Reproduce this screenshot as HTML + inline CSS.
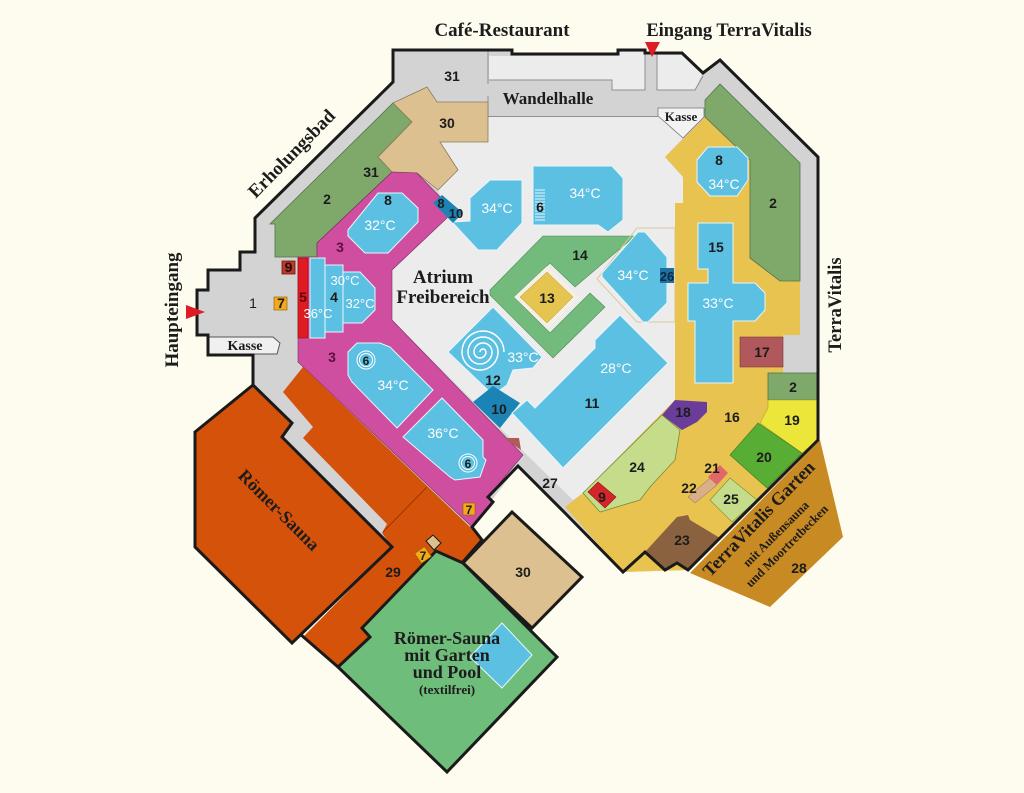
<!DOCTYPE html>
<html><head><meta charset="utf-8">
<style>
html,body{margin:0;padding:0;background:#fdfcef;width:1024px;height:793px;overflow:hidden}
svg{display:block}
.n{font-family:"Liberation Sans",sans-serif;font-size:14px;font-weight:bold;fill:#1c1c1c;text-anchor:middle}
.t{font-family:"Liberation Sans",sans-serif;font-size:14px;fill:#ffffff;text-anchor:middle}
.s{font-family:"Liberation Serif",serif;font-weight:bold;fill:#1c1c1c;text-anchor:middle}
.p{fill:#5cc0e2;stroke:#e8f6fb;stroke-width:1}
</style></head><body>
<svg width="1024" height="793" viewBox="0 0 1024 793" xmlns="http://www.w3.org/2000/svg">
<rect width="1024" height="793" fill="#fdfcef"/>

<!-- building grey base -->
<polygon points="393,50 512,50 512,54 618,54 618,50 645,50 645,53 682,53 703,73 720,60 818,157 818,440 688,570 623,572 565,513 518,466 492,500 472,527 392,547 282,437 292,423 253,385 253,355 208,355 208,335 197,335 197,290 208,290 208,270 240,270 240,252 255,252 255,218 393,82" fill="#d3d3d3"/>

<!-- light areas top -->
<polygon points="489,56 618,56 618,52 645,52 645,90 612,90 612,80 489,80" fill="#ececec"/>
<polygon points="657,55 682,55 702,74 695,90 657,90" fill="#ececec"/>
<polyline points="489,80 612,80 612,90 645,90 645,53" fill="none" stroke="#8f8f8f" stroke-width="1"/>
<polyline points="657,54 657,90 695,90 703,76" fill="none" stroke="#8f8f8f" stroke-width="1"/>
<line x1="488" y1="50" x2="488" y2="84" stroke="#8f8f8f" stroke-width="1"/>
<line x1="488" y1="96" x2="488" y2="117" stroke="#8f8f8f" stroke-width="1"/>

<!-- atrium -->
<polygon points="488,116 658,116 683,138 665,157 683,177 683,203 675,203 675,400 583,493 573,500 525,453 392,320 392,270 447,215 438,190 458,170 440,142 488,142" fill="#ececec"/>
<line x1="488" y1="116.5" x2="658" y2="116.5" stroke="#8f8f8f" stroke-width="1"/>

<!-- Kasse right -->
<polygon points="658,108 704,108 704,117 683,138 658,116" fill="#f3f3f3" stroke="#777" stroke-width="0.8"/>

<!-- green 2 left -->
<polygon points="270,224 275,224 275,257 317,257 317,243 392,172 378,157 412,122 393,103" fill="#7ea96a" stroke="#56734b" stroke-width="0.8"/>
<!-- tan 30 upper -->
<polygon points="393,103 427,87 437,102 488,102 488,142 440,142 458,170 438,190 417,173 392,172 378,157 412,122" fill="#dcc08f" stroke="#8c7a5a" stroke-width="0.8"/>

<!-- magenta 3 -->
<polygon points="317,243 392,172 417,173 448,205 447,218 392,270 392,320 523,455 513,467 488,497 493,502 472,527 298,362 298,257 317,257" fill="#d04ea0" stroke="#7a2a5e" stroke-width="0.6"/>
<polygon points="504,438 519,438 521,450" fill="#b05a5a"/>
<!-- pool 8 -->
<polygon class="p" points="348,230 378,193 402,193 418,208 418,222 388,253 365,253 348,236"/>
<!-- pool 4 -->
<polygon class="p" points="310,258 325,258 325,265 343,265 343,272 360,272 375,288 375,310 362,323 343,323 343,332 325,332 325,338 310,338"/>
<line x1="325" y1="265" x2="325" y2="332" stroke="#e8f6fb" stroke-width="1"/>
<line x1="343" y1="272" x2="343" y2="323" stroke="#e8f6fb" stroke-width="1"/>
<!-- red 5 -->
<rect x="298" y="258" width="10" height="80" fill="#e01b24" stroke="#8a1010" stroke-width="0.6"/>
<!-- pool 34 lower -->
<polygon class="p" points="348,352 357,343 380,343 390,347 433,390 397,428 352,382 348,375"/>
<!-- pool 36 -->
<polygon class="p" points="403,437 442,398 483,440 483,457 486,460 480,477 455,480 450,477"/>
<circle cx="366" cy="360" r="9" fill="none" stroke="#fff" stroke-width="1"/>
<circle cx="366" cy="360" r="6.5" fill="none" stroke="#fff" stroke-width="1"/>
<circle cx="468" cy="463" r="9" fill="none" stroke="#fff" stroke-width="1"/>
<circle cx="468" cy="463" r="6.5" fill="none" stroke="#fff" stroke-width="1"/>

<!-- entrance items -->
<rect x="282" y="261" width="13" height="13" fill="#b83a2a" stroke="#6a1a10" stroke-width="0.8"/>
<rect x="274" y="297" width="13" height="13" fill="#f2a91a" stroke="#8a5a00" stroke-width="0.6"/>
<polygon points="209,337 273,337 280,343 277,354 209,354" fill="#f0f0f0" stroke="#555" stroke-width="1"/>

<!-- atrium pools -->
<polygon class="p" points="452,222 470,221 470,198 490,180 522,180 522,223 497,250 478,250"/>
<polygon points="433,203 442,195 463,213 453,223" fill="#1b83b5"/>
<polygon class="p" points="533,166 612,166 623,178 623,220 608,232 598,225 533,225"/>
<g stroke="#e8f6fb" stroke-width="1">
<line x1="535" y1="190" x2="545" y2="190"/><line x1="535" y1="193" x2="545" y2="193"/><line x1="535" y1="196" x2="545" y2="196"/><line x1="535" y1="199" x2="545" y2="199"/><line x1="535" y1="202" x2="545" y2="202"/><line x1="535" y1="205" x2="545" y2="205"/><line x1="535" y1="208" x2="545" y2="208"/><line x1="535" y1="211" x2="545" y2="211"/><line x1="535" y1="214" x2="545" y2="214"/><line x1="535" y1="217" x2="545" y2="217"/><line x1="535" y1="220" x2="545" y2="220"/>
</g>
<!-- 14 / 13 -->
<polygon points="490,290 543,236 635,236 575,287 550,263 514,297 550,333 590,293 605,307 553,358 490,295" fill="#72bb7d" stroke="#4e8a58" stroke-width="0.6"/>
<polygon points="547,266 579,297 547,329 514,297" fill="#f4f1e4"/>
<polygon points="547,272 573,297 547,323 520,297" fill="#e5c550" stroke="#b89a30" stroke-width="0.5"/>
<!-- thin beige outline -->
<polygon points="637,228 675,228 675,322 637,322 597,279" fill="none" stroke="#d9c99a" stroke-width="1"/>
<polygon class="p" points="602,273 638,232 645,232 667,257 667,303 648,322 643,322 602,277"/>
<rect x="660" y="268" width="14" height="15" fill="#1f6fa0"/>
<!-- spiral pool -->
<polygon class="p" points="448,352 493,307 542,357 533,368 513,370 507,385 493,395"/>
<path d="M480,352 A3,3 0 0 1 486,352 A6,6 0 0 1 474,352 A9,9 0 0 1 492,352 A12,12 0 0 1 468,352 A15,15 0 0 1 498,352 A18,18 0 0 1 462,352 A21,21 0 0 1 504,352" fill="none" stroke="#fff" stroke-width="1.5"/>
<polygon points="473,402 493,386 520,403 500,428" fill="#1b83b5"/>
<!-- big pool 11 -->
<polygon class="p" points="512,413 527,400 535,408 595,348 595,340 620,315 668,363 563,468"/>

<!-- yellow 16 -->
<polygon points="705,117 665,157 683,177 683,203 675,203 675,400 583,493 565,507 623,572 688,570 818,440 818,373 783,373 783,335 800,335 800,163 720,84 705,100" fill="#e8c34f"/>
<polygon points="705,100 720,84 800,163 800,281 780,281 750,258 750,160 705,117" fill="#7ea96a" stroke="#56734b" stroke-width="0.8"/>
<polygon class="p" points="697,160 708,147 737,147 748,158 748,180 737,196 710,196 697,182"/>
<polygon class="p" points="698,223 733,223 733,283 755,283 765,293 765,310 755,321 733,321 733,383 695,383 695,321 688,321 688,283 708,283 708,269 698,269"/>
<rect x="740" y="337" width="43" height="30" fill="#b0585c" stroke="#7a3a3a" stroke-width="0.6"/>
<rect x="768" y="373" width="49" height="27" fill="#7ea96a" stroke="#56734b" stroke-width="0.8"/>
<polygon points="768,400 817,400 817,440 802,453 760,423 768,408" fill="#ece53a" stroke="#a09a20" stroke-width="0.5"/>
<polygon points="730,455 758,423 802,453 767,488" fill="#58ad34" stroke="#3a7a22" stroke-width="0.6"/>
<polygon points="662,415 675,400 707,402 707,412 697,422 682,430" fill="#6a3d9a"/>
<polygon points="583,493 662,415 680,430 675,460 650,487 640,500 600,512" fill="#c5dd8a" stroke="#7a8a3a" stroke-width="0.8"/>
<polygon points="588,492 598,482 616,497 605,508" fill="#d4262a" stroke="#8a1010" stroke-width="0.6"/>
<polygon points="710,500 730,478 757,500 732,522" fill="#c5dd8a" stroke="#7a8a3a" stroke-width="0.6"/>
<polygon points="688,497 710,478 717,485 695,503" fill="#d9ae88" stroke="#8a6a4a" stroke-width="0.5"/>
<polygon points="708,477 720,465 728,473 717,485" fill="#e06868"/>
<polygon points="645,552 677,517 688,515 690,520 720,538 688,570 677,563 665,570" fill="#8b6240"/>
<!-- garden 28 -->
<polygon points="820,440 843,537 770,607 690,573" fill="#c88a22"/>

<!-- orange 29 -->
<polygon points="283,392 303,367 470,527 482,540 462,563 437,552 362,628 370,637 338,667 303,637 392,547 382,533 387,524 303,438 313,427" fill="#d4520a"/>
<line x1="427" y1="487" x2="383" y2="532" stroke="#8a3000" stroke-width="0.8"/>
<!-- Römer big -->
<polygon points="195,432 253,385 292,423 282,437 392,547 292,643 195,547" fill="#d4520a" stroke="#1a1a1a" stroke-width="3" stroke-linejoin="miter"/>
<!-- green garden -->
<polygon points="338,667 370,637 362,628 436,551 463,563 557,657 447,772" fill="#6fbd7b" stroke="#1a1a1a" stroke-width="3"/>
<polygon points="470,657 502,623 532,655 502,688" fill="#5cc0e2" stroke="#e8f6fb" stroke-width="1"/>
<polygon points="426,541 433,535 441,543 434,550" fill="#dcc08f" stroke="#1a1a1a" stroke-width="1"/>
<rect x="417" y="549" width="12" height="12" fill="#f2a91a" stroke="#8a5a00" stroke-width="0.6" transform="rotate(-35 423 555)"/>
<!-- tan 30 lower -->
<polygon points="463,563 512,512 582,577 532,628" fill="#dcc08f" stroke="#1a1a1a" stroke-width="3"/>
<rect x="463" y="503" width="12" height="12" fill="#f2a91a" stroke="#8a5a00" stroke-width="0.6"/>

<!-- outlines -->
<polyline points="253,385 253,355 208,355 208,335 197,335 197,290 208,290 208,270 240,270 240,252 255,252 255,218 393,82 393,50 512,50 512,54 618,54 618,50 645,50 645,53 682,53 703,73 720,60 818,157 818,440 688,570 677,563 665,570 645,552 623,572 565,513 518,466 488,497 493,502 472,527 482,540 462,563" fill="none" stroke="#1a1a1a" stroke-width="3" stroke-linejoin="miter"/>
<polyline points="300,634 338,667" fill="none" stroke="#1a1a1a" stroke-width="3"/>

<!-- red arrows -->
<polygon points="645,42 660,42 652,57" fill="#e01b24"/>
<polygon points="186,305 205,312 186,319" fill="#e01b24"/>

<!-- outside labels -->
<text class="s" x="502" y="36" font-size="19">Café-Restaurant</text>
<text class="s" x="729" y="36" font-size="18.5">Eingang TerraVitalis</text>
<text class="s" font-size="19" x="291" y="160" transform="rotate(-45.5 291 153)">Erholungsbad</text>
<text class="s" font-size="19" x="172" y="316" transform="rotate(-90 172 310)">Haupteingang</text>
<text class="s" font-size="18.5" x="835" y="311" transform="rotate(-90 835 305)">TerraVitalis</text>
<text class="s" font-size="17" x="548" y="104">Wandelhalle</text>
<text class="s" font-size="19" x="443" y="283">Atrium</text>
<text class="s" font-size="19" x="443" y="303">Freibereich</text>
<text class="s" font-size="14" x="245" y="350">Kasse</text>
<text class="s" font-size="13" x="681" y="121">Kasse</text>
<text class="s" font-size="18" x="279" y="516" transform="rotate(45 279 510)">Römer-Sauna</text>
<text class="s" font-size="18" x="447" y="644">Römer-Sauna</text>
<text class="s" font-size="18" x="447" y="661">mit Garten</text>
<text class="s" font-size="18" x="447" y="678">und Pool</text>
<text class="s" font-size="13" x="447" y="694">(textilfrei)</text>
<text class="s" font-size="18" x="758" y="525" transform="rotate(-46 758 518)">TerraVitalis Garten</text>
<text class="s" font-size="12.5" x="776" y="538" transform="rotate(-45 776 534)">mit Außensauna</text>
<text class="s" font-size="12.5" x="787" y="550" transform="rotate(-45 787 546)">und Moortretbecken</text>

<!-- numbers -->
<text class="n" x="452" y="81">31</text>
<text class="n" x="447" y="128">30</text>
<text class="n" x="371" y="177">31</text>
<text class="n" x="327" y="204">2</text>
<text class="n" x="388" y="205">8</text>
<text class="n" x="340" y="252" style="fill:#5a1040">3</text>
<text class="n" x="288.5" y="272" style="fill:#2a0a05">9</text>
<text class="n" x="253" y="308" style="font-weight:normal">1</text>
<text class="n" x="281" y="308">7</text>
<text class="n" x="303" y="302" style="fill:#5a0a0a">5</text>
<text class="n" x="334" y="302">4</text>
<text class="n" x="332" y="362" style="fill:#5a1040">3</text>
<text class="n" x="366" y="365" style="font-size:12px">6</text>
<text class="n" x="468" y="468" style="font-size:12px">6</text>
<text class="n" x="441" y="208" style="font-size:13px">8</text>
<text class="n" x="456" y="218" style="font-size:13px">10</text>
<text class="n" x="540" y="212">6</text>
<text class="n" x="580" y="260">14</text>
<text class="n" x="547" y="303">13</text>
<text class="n" x="667" y="281" style="font-size:13px;fill:#0d2a40">26</text>
<text class="n" x="719" y="165">8</text>
<text class="n" x="773" y="208">2</text>
<text class="n" x="716" y="252">15</text>
<text class="n" x="762" y="357">17</text>
<text class="n" x="793" y="392">2</text>
<text class="n" x="683" y="417">18</text>
<text class="n" x="732" y="422">16</text>
<text class="n" x="792" y="425">19</text>
<text class="n" x="764" y="462">20</text>
<text class="n" x="637" y="472">24</text>
<text class="n" x="602" y="502">9</text>
<text class="n" x="712" y="473">21</text>
<text class="n" x="689" y="493">22</text>
<text class="n" x="731" y="504">25</text>
<text class="n" x="682" y="545">23</text>
<text class="n" x="799" y="573">28</text>
<text class="n" x="493" y="385">12</text>
<text class="n" x="499" y="414">10</text>
<text class="n" x="592" y="408">11</text>
<text class="n" x="550" y="488">27</text>
<text class="n" x="393" y="577">29</text>
<text class="n" x="523" y="577">30</text>
<text class="n" x="469" y="514" style="font-size:12px">7</text>
<text class="n" x="423" y="560" style="font-size:12px">7</text>

<!-- temperatures -->
<text class="t" x="380" y="230">32°C</text>
<text class="t" x="345" y="285" style="font-size:13px">30°C</text>
<text class="t" x="360" y="308" style="font-size:13px">32°C</text>
<text class="t" x="318" y="318" style="font-size:13px">36°C</text>
<text class="t" x="393" y="390">34°C</text>
<text class="t" x="443" y="438">36°C</text>
<text class="t" x="497" y="213">34°C</text>
<text class="t" x="585" y="198">34°C</text>
<text class="t" x="633" y="280">34°C</text>
<text class="t" x="523" y="362">33°C</text>
<text class="t" x="616" y="373">28°C</text>
<text class="t" x="724" y="189">34°C</text>
<text class="t" x="718" y="308">33°C</text>
</svg>
</body></html>
